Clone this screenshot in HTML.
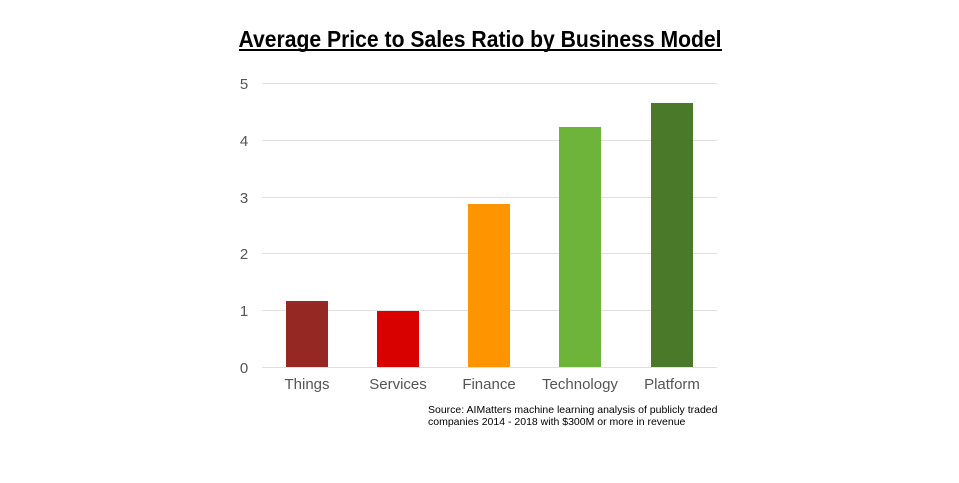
<!DOCTYPE html>
<html><head><meta charset="utf-8"><style>
body{margin:0;background:#fff;width:959px;height:478px;overflow:hidden;font-family:"Liberation Sans",sans-serif}
</style></head><body>
<svg width="959" height="478" xmlns="http://www.w3.org/2000/svg" font-family="Liberation Sans, sans-serif">
<text x="480" y="47" text-anchor="middle" font-size="23" font-weight="bold" fill="#000" textLength="483" lengthAdjust="spacingAndGlyphs">Average Price to Sales Ratio by Business Model</text>
<rect x="239" y="49" width="483" height="2" fill="#000"/>
<g stroke="#e0e0e0" stroke-width="1">
<line x1="262" x2="717" y1="83.5" y2="83.5"/>
<line x1="262" x2="717" y1="140.5" y2="140.5"/>
<line x1="262" x2="717" y1="197.5" y2="197.5"/>
<line x1="262" x2="717" y1="253.5" y2="253.5"/>
<line x1="262" x2="717" y1="310.5" y2="310.5"/>
<line x1="262" x2="717" y1="367.5" y2="367.5"/>
</g>
<g font-size="15" fill="#555" text-anchor="middle">
<text x="244" y="89">5</text><text x="244" y="146">4</text><text x="244" y="203">3</text>
<text x="244" y="259">2</text><text x="244" y="316">1</text><text x="244" y="373">0</text>
</g>
<rect x="286" y="301" width="42" height="66" fill="#962824"/>
<rect x="377" y="311" width="42" height="56" fill="#d90000"/>
<rect x="468" y="204" width="42" height="163" fill="#fd9400"/>
<rect x="559" y="127" width="42" height="240" fill="#6fb43a"/>
<rect x="651" y="103" width="42" height="264" fill="#4a7a29"/>
<g font-size="15" fill="#555" text-anchor="middle">
<text x="307" y="389">Things</text><text x="398" y="389">Services</text><text x="489" y="389">Finance</text>
<text x="580" y="389">Technology</text><text x="672" y="389">Platform</text>
</g>
<g font-size="10.5" fill="#000">
<text x="428" y="413">Source: AIMatters machine learning analysis of publicly traded</text>
<text x="428" y="425">companies 2014 -  2018 with $300M or more in revenue</text>
</g>
</svg>
</body></html>
